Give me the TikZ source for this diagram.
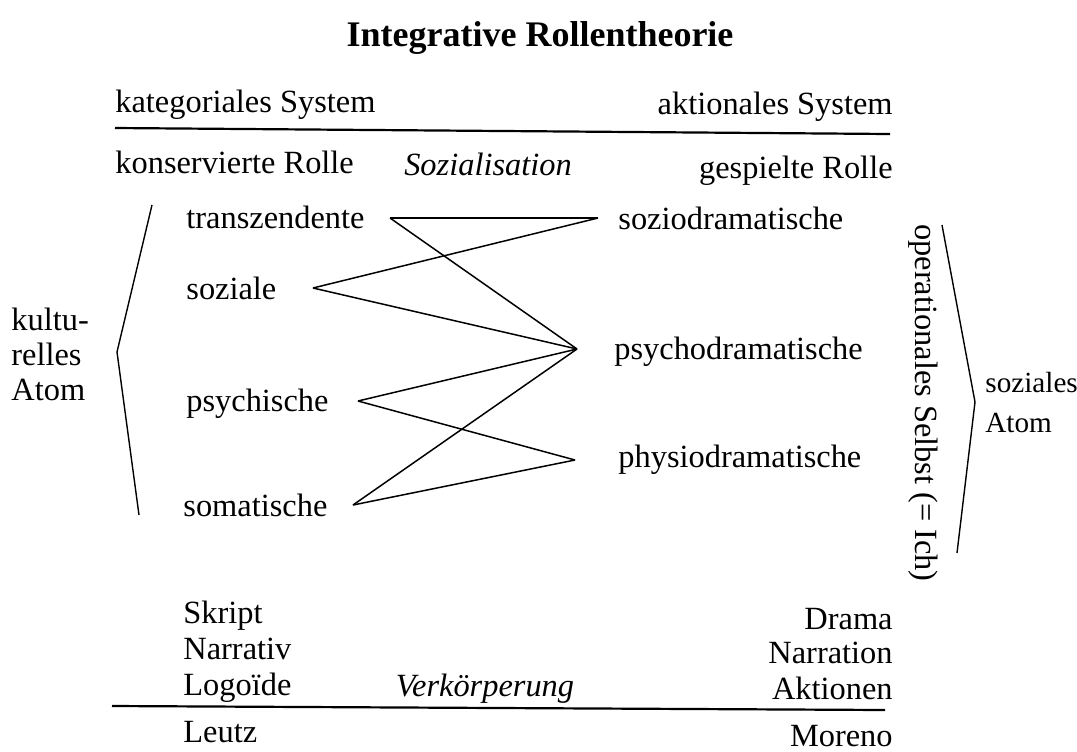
\documentclass[tikz,border=0pt]{standalone}
\usepackage{fontspec}
\setmainfont{Liberation Serif}
\usetikzlibrary{positioning}

\begin{document}
\begin{tikzpicture}[x=0.5pt,y=-0.5pt,font=\fontsize{16.2}{19}\selectfont,
    lbl/.style={inner sep=0pt,anchor=base west},
    rlbl/.style={inner sep=0pt,anchor=base east},
    clbl/.style={inner sep=0pt,anchor=base,font=\fontsize{16.2}{19}\selectfont\itshape},
    rule/.style={line width=1.1pt},
    link/.style={line width=0.75pt},
    brace/.style={line width=0.7pt}]
  \useasboundingbox (0,0) rectangle (1077,751);
  % title
  \node[inner sep=0pt,anchor=base,font=\fontsize{18}{21}\selectfont\bfseries] (title) at (540,46) {Integrative Rollentheorie};
  % upper rows
  \node[lbl] (katsys) at (115,112) {kategoriales System};
  \node[rlbl] (aktsys) at (893,114) {aktionales System};
  \draw[rule] (115,128) -- (890,134);
  \node[lbl] (konsrolle) at (115,173) {konservierte Rolle};
  \node[clbl] (sozialisation) at (488,175) {Sozialisation};
  \node[rlbl] (spielrolle) at (893,178) {gespielte Rolle};
  % roles
  \node[lbl] (trans) at (186,228) {transzendente};
  \node[lbl] (sozial) at (186,299) {soziale};
  \node[lbl] (psychi) at (186,411) {psychische};
  \node[lbl] (somat) at (183,516) {somatische};
  \node[lbl] (soziod) at (618,229) {soziodramatische};
  \node[lbl] (psychod) at (614,359) {psychodramatische};
  \node[lbl] (physiod) at (618,467) {physiodramatische};
  \coordinate (trans-e) at (390,218);
  \coordinate (sozial-e) at (313,288);
  \coordinate (psychi-e) at (358,401);
  \coordinate (somat-e) at (353,505);
  \coordinate (soziod-w) at (598,218);
  \coordinate (psychod-w) at (577,349);
  \coordinate (physiod-w) at (575,460);
  \draw[link] (trans-e) -- (soziod-w);
  \draw[link] (trans-e) -- (psychod-w);
  \draw[link] (sozial-e) -- (soziod-w);
  \draw[link] (sozial-e) -- (psychod-w);
  \draw[link] (psychi-e) -- (psychod-w);
  \draw[link] (psychi-e) -- (physiod-w);
  \draw[link] (somat-e) -- (psychod-w);
  \draw[link] (somat-e) -- (physiod-w);
  % atoms
  \draw[brace] (152,205) -- (117,352) -- (139,515);
  \node[lbl,align=left,font=\fontsize{16.2}{17.5}\selectfont] (kultatom) at (11,400) {kultu-\\relles\\Atom};
  \draw[brace] (942,225) -- (975,402) -- (957,553);
  \node[inner sep=0pt,rotate=-90] (opselbst) at (923,403) {operationales Selbst (= Ich)};
  \node[lbl,align=left,font=\fontsize{14.6}{20}\selectfont] (sozatom) at (985,432) {soziales\\Atom};
  % lower rows
  \node[lbl] (skript) at (183,623) {Skript};
  \node[lbl] (narrativ) at (183,659) {Narrativ};
  \node[lbl] (logoide) at (183,695) {Logoïde};
  \node[clbl] (verkoerp) at (485,696) {Verkörperung};
  \node[rlbl] (drama) at (893,629) {Drama};
  \node[rlbl] (narration) at (893,663) {Narration};
  \node[rlbl] (aktionen) at (893,699) {Aktionen};
  \draw[rule] (112,706) -- (885,710);
  \node[lbl] (leutz) at (183,742) {Leutz};
  \node[rlbl] (moreno) at (893,746) {Moreno};
\end{tikzpicture}
\end{document}
